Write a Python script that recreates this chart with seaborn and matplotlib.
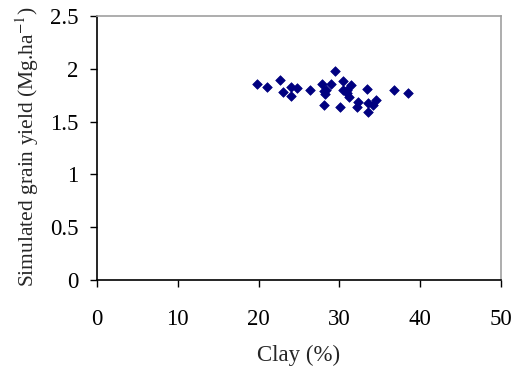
import matplotlib
matplotlib.use("Agg")
import matplotlib.pyplot as plt
import seaborn as sns
import pandas as pd

# Clay content (%) and simulated grain yield (Mg/ha) per site
clay = [19.8, 21.0, 22.7, 23.0, 24.0, 24.0, 24.8, 26.3, 27.9, 28.1,
        28.2, 28.1, 29.0, 29.4, 30.1, 30.5, 30.5, 30.9, 31.4, 31.2,
        32.3, 32.2, 33.4, 33.5, 33.5, 34.5, 34.2, 36.7, 38.5, 28.4, 31.0]
grain_yield = [1.853, 1.825, 1.897, 1.783, 1.825, 1.742, 1.815, 1.796, 1.853, 1.793,
               1.761, 1.657, 1.856, 1.982, 1.641, 1.884, 1.799, 1.768, 1.847, 1.736,
               1.688, 1.635, 1.809, 1.673, 1.594, 1.705, 1.657, 1.796, 1.771, 1.80, 1.80]

x_ticks = [0, 10, 20, 30, 40, 50]
y_ticks = [0, 0.5, 1, 1.5, 2, 2.5]
y_tick_labels = ["0", "0.5", "1", "1.5", "2", "2.5"]

df = pd.DataFrame({"clay": clay, "yield": grain_yield})

sns.set_style("ticks")
plt.rcParams["font.family"] = ["Liberation Serif", "DejaVu Serif"]
plt.rcParams["mathtext.fontset"] = "stix"

W, H = 513, 375
fig = plt.figure(figsize=(W / 100, H / 100), dpi=100)
ax = fig.add_axes([97 / W, (H - 280) / H, (501 - 97) / W, (280 - 16) / H])

sns.scatterplot(data=df, x="clay", y="yield", ax=ax, marker="D", s=24,
                color="#000080", edgecolor="#000080", linewidth=0.5, legend=False)

ax.set_xlim(0, 50)
ax.set_ylim(0, 2.5)
ax.set_xticks(x_ticks)
ax.set_xticklabels([str(t) for t in x_ticks])
ax.set_yticks(y_ticks)
ax.set_yticklabels(y_tick_labels)

for side in ("left", "bottom"):
    ax.spines[side].set_color("black")
    ax.spines[side].set_linewidth(1.2)
for side in ("top", "right"):
    ax.spines[side].set_visible(True)
    ax.spines[side].set_color("#a0a0a0")
    ax.spines[side].set_linewidth(1.2)

ax.tick_params(axis="x", direction="out", length=5, width=1, pad=16,
               labelsize=16.5, colors="black")
ax.tick_params(axis="y", direction="out", length=5, width=1, pad=8.5,
               labelsize=16.5, colors="black")

ax.set_xlabel("")
ax.set_ylabel("")
fig.text(299 / W, (H - 355) / H, "Clay (%)", ha="center", va="center", fontsize=16.5)
fig.text(27 / W, (H - 287) / H, "Simulated grain yield (Mg.ha$^{-1}$)",
         rotation=90, ha="center", va="bottom", fontsize=15.5)

fig.savefig("out.png", dpi=100)
